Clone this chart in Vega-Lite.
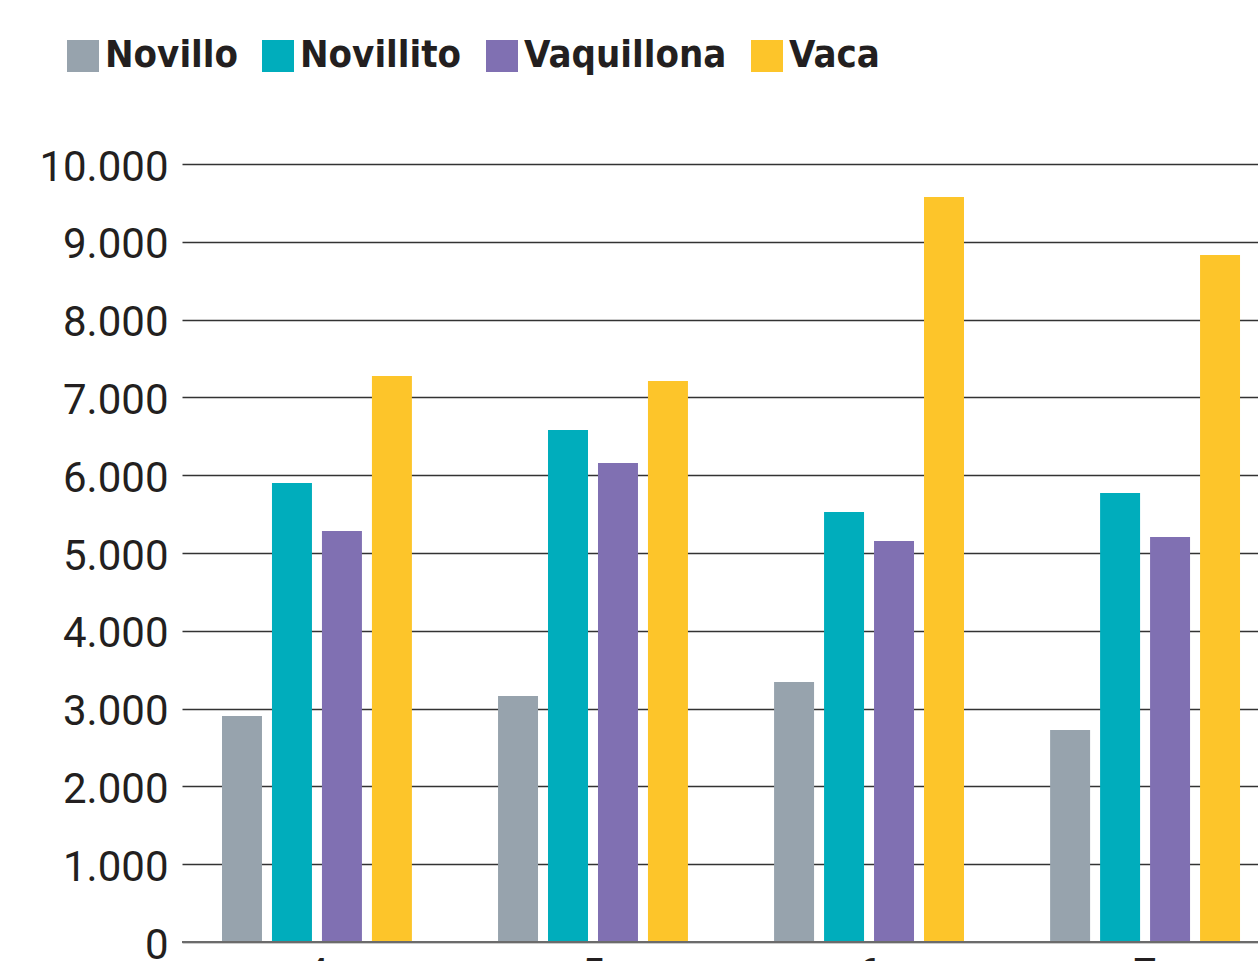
{
  "$schema": "https://vega.github.io/schema/vega-lite/v6.json",
  "width": 1076,
  "height": 778,
  "autosize": {"type": "none"},
  "padding": {"left": 182, "top": 164, "right": 0, "bottom": 19},
  "background": "white",
  "config": {"view": {"stroke": null}},
  "layer": [
    {
      "data": {
        "values": [
          {"mes": "4", "categoria": "Novillo", "valor": 2905},
          {"mes": "4", "categoria": "Novillito", "valor": 5900},
          {"mes": "4", "categoria": "Vaquillona", "valor": 5283},
          {"mes": "4", "categoria": "Vaca", "valor": 7275},
          {"mes": "5", "categoria": "Novillo", "valor": 3162},
          {"mes": "5", "categoria": "Novillito", "valor": 6581},
          {"mes": "5", "categoria": "Vaquillona", "valor": 6157},
          {"mes": "5", "categoria": "Vaca", "valor": 7211},
          {"mes": "6", "categoria": "Novillo", "valor": 3342},
          {"mes": "6", "categoria": "Novillito", "valor": 5527},
          {"mes": "6", "categoria": "Vaquillona", "valor": 5154},
          {"mes": "6", "categoria": "Vaca", "valor": 9576},
          {"mes": "7", "categoria": "Novillo", "valor": 2725},
          {"mes": "7", "categoria": "Novillito", "valor": 5771},
          {"mes": "7", "categoria": "Vaquillona", "valor": 5206},
          {"mes": "7", "categoria": "Vaca", "valor": 8830}
        ]
      },
      "mark": {"type": "bar"},
      "encoding": {
        "x": {
          "field": "mes",
          "type": "ordinal",
          "scale": {"paddingInner": 0.312, "paddingOuter": 0.105, "align": 0.69},
          "axis": {
            "title": null,
            "domain": false,
            "ticks": false,
            "labelAngle": 0,
            "labelFont": "Roboto",
            "labelFontSize": 42,
            "labelColor": "#231f20",
            "labelPadding": 12
          }
        },
        "xOffset": {
          "field": "categoria",
          "type": "nominal",
          "sort": ["Novillo", "Novillito", "Vaquillona", "Vaca"],
          "scale": {"paddingInner": 0.2, "paddingOuter": 0}
        },
        "y": {
          "field": "valor",
          "type": "quantitative",
          "scale": {"domain": [0, 10000], "nice": false},
          "axis": {
            "title": null,
            "domain": false,
            "ticks": false,
            "grid": true,
            "gridColor": "#333333",
            "gridWidth": 1.3,
            "values": [0, 1000, 2000, 3000, 4000, 5000, 6000, 7000, 8000, 9000, 10000],
            "labelExpr": "replace(format(datum.value, ','), ',', '.')",
            "labelFont": "Roboto",
            "labelFontSize": 42,
            "labelColor": "#231f20",
            "labelPadding": 14,
            "labelOffset": 3
          }
        },
        "color": {
          "field": "categoria",
          "type": "nominal",
          "sort": ["Novillo", "Novillito", "Vaquillona", "Vaca"],
          "scale": {
            "domain": ["Novillo", "Novillito", "Vaquillona", "Vaca"],
            "range": ["#97a3ad", "#00adbc", "#8070b2", "#fdc52a"]
          },
          "legend": {
            "title": null,
            "orient": "none",
            "legendX": -118,
            "legendY": -127,
            "direction": "horizontal",
            "columns": 4,
            "columnPadding": 21,
            "symbolType": "square",
            "symbolSize": 1024,
            "symbolStrokeWidth": 0,
            "symbolOpacity": 1,
            "labelOffset": 3,
            "labelFont": "DejaVu Sans Condensed",
            "labelFontWeight": "bold",
            "labelFontSize": 38,
            "labelColor": "#231f20",
            "labelLimit": 400
          }
        }
      }
    },
    {
      "data": {"values": [{"base": 0}]},
      "mark": {"type": "rule", "color": "#6b6b6b", "strokeWidth": 2},
      "encoding": {"y": {"field": "base", "type": "quantitative"}}
    }
  ]
}
